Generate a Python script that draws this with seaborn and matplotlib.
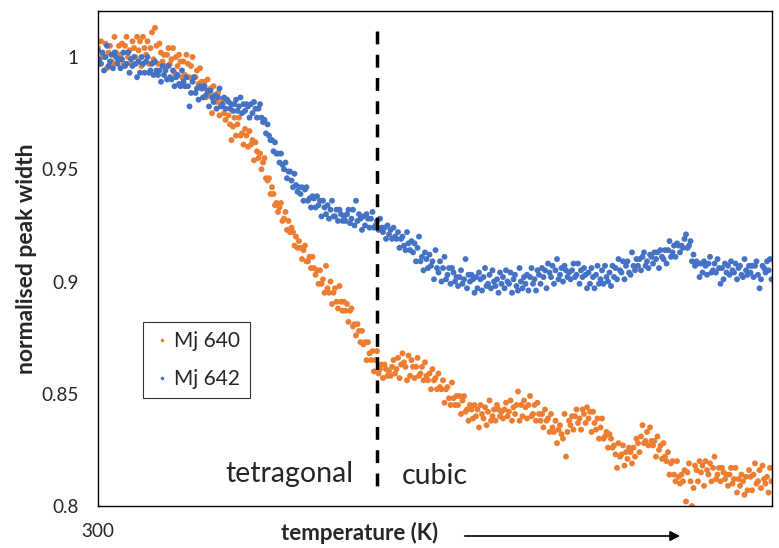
import numpy as np
import pandas as pd
import matplotlib
matplotlib.use('Agg')
import matplotlib.pyplot as plt
import seaborn as sns

# Normalised peak widths, 450 readings per sample,
# evenly spaced over the temperature sweep (one row = 15 readings)
mj640 = [
    1.004, 0.997, 1.007, 1.001, 1.000, 1.006, 0.995, 1.002, 1.005, 0.998, 0.997, 1.009, 1.002, 0.998, 1.005,
    1.001, 1.006, 0.997, 1.005, 1.009, 1.000, 1.003, 0.997, 1.007, 1.004, 1.000, 1.009, 1.003, 1.007, 0.996,
    1.009, 1.004, 1.001, 1.007, 0.997, 1.004, 1.011, 0.999, 1.013, 1.005, 0.997, 1.006, 1.002, 0.998, 1.001,
    0.996, 1.001, 1.004, 0.997, 0.999, 1.004, 0.993, 1.000, 0.996, 1.001, 0.998, 0.991, 0.998, 0.992, 1.001,
    0.997, 0.991, 0.996, 1.000, 0.991, 0.991, 0.994, 0.988, 0.995, 0.989, 0.986, 0.989, 0.982, 0.990, 0.984,
    0.986, 0.975, 0.987, 0.982, 0.980, 0.984, 0.974, 0.979, 0.981, 0.975, 0.972, 0.981, 0.974, 0.970, 0.963,
    0.969, 0.973, 0.965, 0.970, 0.973, 0.965, 0.966, 0.961, 0.968, 0.965, 0.960, 0.967, 0.961, 0.963, 0.954,
    0.962, 0.958, 0.955, 0.957, 0.950, 0.953, 0.955, 0.946, 0.945, 0.946, 0.939, 0.942, 0.939, 0.934, 0.935,
    0.931, 0.933, 0.935, 0.927, 0.928, 0.931, 0.923, 0.927, 0.922, 0.924, 0.922, 0.916, 0.920, 0.915, 0.918,
    0.915, 0.910, 0.914, 0.916, 0.909, 0.909, 0.911, 0.906, 0.911, 0.906, 0.903, 0.905, 0.899, 0.905, 0.899,
    0.901, 0.895, 0.907, 0.897, 0.895, 0.900, 0.890, 0.895, 0.897, 0.891, 0.888, 0.898, 0.891, 0.887, 0.891,
    0.887, 0.890, 0.882, 0.887, 0.888, 0.880, 0.881, 0.876, 0.881, 0.878, 0.873, 0.878, 0.872, 0.873, 0.865,
    0.873, 0.868, 0.865, 0.869, 0.860, 0.865, 0.869, 0.859, 0.861, 0.863, 0.857, 0.863, 0.861, 0.858, 0.860,
    0.858, 0.862, 0.865, 0.859, 0.861, 0.866, 0.857, 0.863, 0.868, 0.864, 0.862, 0.856, 0.867, 0.858, 0.865,
    0.862, 0.857, 0.862, 0.866, 0.858, 0.859, 0.862, 0.856, 0.864, 0.858, 0.856, 0.859, 0.852, 0.861, 0.856,
    0.857, 0.852, 0.859, 0.853, 0.852, 0.856, 0.846, 0.852, 0.853, 0.848, 0.845, 0.855, 0.848, 0.845, 0.849,
    0.845, 0.849, 0.841, 0.847, 0.849, 0.842, 0.843, 0.838, 0.845, 0.843, 0.839, 0.845, 0.840, 0.843, 0.835,
    0.845, 0.841, 0.839, 0.844, 0.836, 0.842, 0.847, 0.838, 0.840, 0.843, 0.838, 0.845, 0.843, 0.840, 0.842,
    0.839, 0.843, 0.846, 0.840, 0.842, 0.847, 0.838, 0.844, 0.841, 0.845, 0.851, 0.838, 0.845, 0.840, 0.847,
    0.844, 0.839, 0.845, 0.849, 0.840, 0.841, 0.845, 0.838, 0.846, 0.841, 0.838, 0.841, 0.835, 0.843, 0.838,
    0.839, 0.833, 0.841, 0.835, 0.833, 0.838, 0.828, 0.834, 0.836, 0.832, 0.830, 0.841, 0.822, 0.833, 0.838,
    0.836, 0.840, 0.834, 0.840, 0.843, 0.837, 0.839, 0.834, 0.843, 0.841, 0.837, 0.844, 0.839, 0.842, 0.833,
    0.842, 0.837, 0.834, 0.839, 0.830, 0.835, 0.839, 0.830, 0.831, 0.833, 0.826, 0.832, 0.830, 0.826, 0.827,
    0.823, 0.817, 0.828, 0.822, 0.823, 0.827, 0.818, 0.824, 0.821, 0.826, 0.824, 0.819, 0.826, 0.822, 0.830,
    0.828, 0.824, 0.831, 0.836, 0.828, 0.829, 0.833, 0.827, 0.835, 0.829, 0.827, 0.829, 0.822, 0.831, 0.825,
    0.827, 0.821, 0.828, 0.822, 0.820, 0.824, 0.814, 0.819, 0.820, 0.814, 0.811, 0.820, 0.813, 0.810, 0.814,
    0.811, 0.816, 0.802, 0.815, 0.819, 0.811, 0.800, 0.808, 0.818, 0.816, 0.811, 0.820, 0.815, 0.818, 0.809,
    0.820, 0.816, 0.814, 0.819, 0.811, 0.817, 0.822, 0.812, 0.814, 0.817, 0.811, 0.817, 0.815, 0.812, 0.814,
    0.809, 0.814, 0.817, 0.810, 0.812, 0.817, 0.806, 0.812, 0.809, 0.814, 0.811, 0.805, 0.813, 0.807, 0.816,
    0.813, 0.807, 0.814, 0.819, 0.810, 0.811, 0.816, 0.808, 0.818, 0.812, 0.810, 0.813, 0.806, 0.817, 0.811,
]
mj642 = [
    1.003, 0.999, 0.997, 1.002, 0.994, 1.000, 1.005, 0.996, 0.998, 1.001, 0.995, 1.002, 1.000, 0.997, 0.999,
    0.995, 0.999, 1.002, 0.996, 0.997, 1.002, 0.993, 0.999, 0.996, 1.000, 0.997, 0.991, 0.998, 0.993, 1.000,
    0.997, 0.993, 0.998, 1.000, 0.993, 0.994, 0.997, 0.992, 0.998, 0.994, 0.992, 0.994, 0.989, 0.996, 0.992,
    0.994, 0.990, 0.996, 0.991, 0.990, 0.994, 0.987, 0.991, 0.992, 0.988, 0.987, 0.994, 0.989, 0.987, 0.991,
    0.987, 0.978, 0.984, 0.989, 0.991, 0.984, 0.986, 0.981, 0.987, 0.986, 0.982, 0.987, 0.983, 0.985, 0.978,
    0.985, 0.982, 0.980, 0.983, 0.977, 0.982, 0.986, 0.978, 0.979, 0.982, 0.977, 0.981, 0.980, 0.977, 0.979,
    0.976, 0.979, 0.981, 0.976, 0.978, 0.982, 0.975, 0.979, 0.976, 0.979, 0.978, 0.973, 0.979, 0.975, 0.980,
    0.977, 0.973, 0.977, 0.979, 0.973, 0.971, 0.972, 0.966, 0.970, 0.965, 0.963, 0.963, 0.958, 0.962, 0.957,
    0.957, 0.953, 0.957, 0.952, 0.950, 0.953, 0.946, 0.949, 0.949, 0.945, 0.942, 0.948, 0.943, 0.940, 0.942,
    0.939, 0.942, 0.936, 0.941, 0.942, 0.936, 0.937, 0.933, 0.938, 0.937, 0.933, 0.938, 0.934, 0.936, 0.929,
    0.936, 0.933, 0.930, 0.934, 0.928, 0.932, 0.936, 0.929, 0.929, 0.932, 0.927, 0.932, 0.930, 0.927, 0.929,
    0.927, 0.930, 0.932, 0.926, 0.928, 0.932, 0.925, 0.936, 0.927, 0.930, 0.928, 0.923, 0.929, 0.925, 0.930,
    0.928, 0.924, 0.928, 0.931, 0.924, 0.925, 0.927, 0.923, 0.928, 0.924, 0.922, 0.924, 0.919, 0.925, 0.921,
    0.923, 0.919, 0.924, 0.920, 0.919, 0.922, 0.915, 0.919, 0.920, 0.916, 0.914, 0.922, 0.917, 0.914, 0.918,
    0.913, 0.917, 0.909, 0.915, 0.920, 0.909, 0.911, 0.905, 0.913, 0.910, 0.906, 0.912, 0.907, 0.909, 0.901,
    0.914, 0.906, 0.904, 0.909, 0.900, 0.906, 0.911, 0.901, 0.903, 0.906, 0.899, 0.906, 0.904, 0.900, 0.902,
    0.898, 0.902, 0.905, 0.899, 0.901, 0.910, 0.897, 0.903, 0.900, 0.903, 0.901, 0.895, 0.902, 0.897, 0.904,
    0.901, 0.896, 0.902, 0.906, 0.898, 0.899, 0.903, 0.897, 0.905, 0.900, 0.898, 0.901, 0.895, 0.904, 0.899,
    0.902, 0.897, 0.905, 0.900, 0.899, 0.904, 0.895, 0.901, 0.903, 0.898, 0.896, 0.906, 0.900, 0.897, 0.902,
    0.899, 0.903, 0.896, 0.902, 0.906, 0.899, 0.901, 0.896, 0.905, 0.903, 0.899, 0.906, 0.902, 0.905, 0.897,
    0.908, 0.904, 0.902, 0.907, 0.899, 0.905, 0.910, 0.901, 0.903, 0.906, 0.900, 0.907, 0.905, 0.902, 0.904,
    0.901, 0.905, 0.908, 0.902, 0.903, 0.908, 0.899, 0.905, 0.902, 0.906, 0.903, 0.897, 0.904, 0.899, 0.906,
    0.902, 0.897, 0.903, 0.907, 0.899, 0.901, 0.905, 0.899, 0.907, 0.902, 0.900, 0.904, 0.898, 0.907, 0.902,
    0.906, 0.901, 0.910, 0.905, 0.904, 0.909, 0.901, 0.907, 0.909, 0.904, 0.903, 0.913, 0.907, 0.905, 0.910,
    0.907, 0.910, 0.905, 0.911, 0.913, 0.907, 0.909, 0.906, 0.912, 0.911, 0.908, 0.913, 0.910, 0.913, 0.906,
    0.914, 0.911, 0.910, 0.914, 0.908, 0.914, 0.918, 0.911, 0.913, 0.916, 0.911, 0.917, 0.916, 0.913, 0.916,
    0.915, 0.919, 0.921, 0.915, 0.916, 0.918, 0.909, 0.912, 0.907, 0.909, 0.908, 0.902, 0.908, 0.904, 0.909,
    0.907, 0.903, 0.908, 0.911, 0.904, 0.905, 0.908, 0.904, 0.910, 0.906, 0.899, 0.906, 0.901, 0.908, 0.904,
    0.907, 0.903, 0.909, 0.905, 0.904, 0.908, 0.901, 0.906, 0.907, 0.903, 0.902, 0.910, 0.905, 0.903, 0.907,
    0.904, 0.907, 0.902, 0.907, 0.909, 0.903, 0.897, 0.901, 0.907, 0.906, 0.904, 0.909, 0.905, 0.910, 0.901,
]
series_names = ['Mj 640', 'Mj 642']
series_colors = ['#ED7D31', '#4472C4']

t_start, t_end = 300, 999.5        # temperature span of the sweep (K)
t_transition = 590                 # tetragonal -> cubic
phase_labels = ['tetragonal', 'cubic']

temps = np.linspace(t_start, t_end, len(mj640))
df = pd.concat([
    pd.DataFrame({'temperature': temps, 'width': mj640, 'sample': series_names[0]}),
    pd.DataFrame({'temperature': temps, 'width': mj642, 'sample': series_names[1]}),
])

sns.set_theme(style='white')
plt.rcParams['font.family'] = ['Lato', 'DejaVu Sans']

fig = plt.figure(figsize=(7.79, 5.48), dpi=100)
ax = fig.add_axes([0.1258, 0.0766, 0.8652, 0.9033])

sns.scatterplot(data=df, x='temperature', y='width', hue='sample',
                palette=series_colors, s=18, linewidth=0, ax=ax)

# phase boundary (drawn top-down so the dash pattern starts at the top)
ax.plot([t_transition, t_transition], [1.0115, 0.8054], color='black',
        lw=2.5, dashes=(3.7, 3.0))
ax.text(565, 0.8143, phase_labels[0], ha='right', va='center', fontsize=20.5)
ax.text(615, 0.8134, phase_labels[1], ha='left', va='center', fontsize=20.5)

ax.set_xlim(300, 1000)
ax.set_ylim(0.8, 1.0205)
ax.set_yticks([0.8, 0.85, 0.9, 0.95, 1.0])
ax.set_yticklabels(['0.8', '0.85', '0.9', '0.95', '1'])
ax.set_xticks([300])
ax.set_xticklabels(['300'])
ax.tick_params(axis='y', length=0, pad=14, labelsize=13.6)
ax.tick_params(axis='x', length=0, pad=12, labelsize=13.6)
for sp in ax.spines.values():
    sp.set_visible(True)
    sp.set_color('black')
    sp.set_linewidth(1)

ax.set_xlabel('')
ax.set_ylabel('normalised peak width', fontsize=16.5, fontweight='bold', labelpad=3)

leg = ax.legend(loc='upper left', bbox_to_anchor=(0.0668, 0.3717), borderaxespad=0,
                fontsize=15, markerscale=0.6, frameon=True, fancybox=False,
                handletextpad=0.15, borderpad=0.45, labelspacing=0.85, handlelength=0.9)
leg.get_frame().set_edgecolor('black')
leg.get_frame().set_linewidth(0.8)

fig.text(0.461, 0.027, 'temperature (K)', ha='center', va='center',
         fontsize=16, fontweight='bold')
ax.annotate('', xy=(683 / 779, 1 - 536 / 548), xytext=(462 / 779, 1 - 536 / 548),
            xycoords='figure fraction', textcoords='figure fraction',
            arrowprops=dict(arrowstyle='-|>', color='black', lw=1.2, mutation_scale=15))

fig.savefig('out.png', dpi=100)
